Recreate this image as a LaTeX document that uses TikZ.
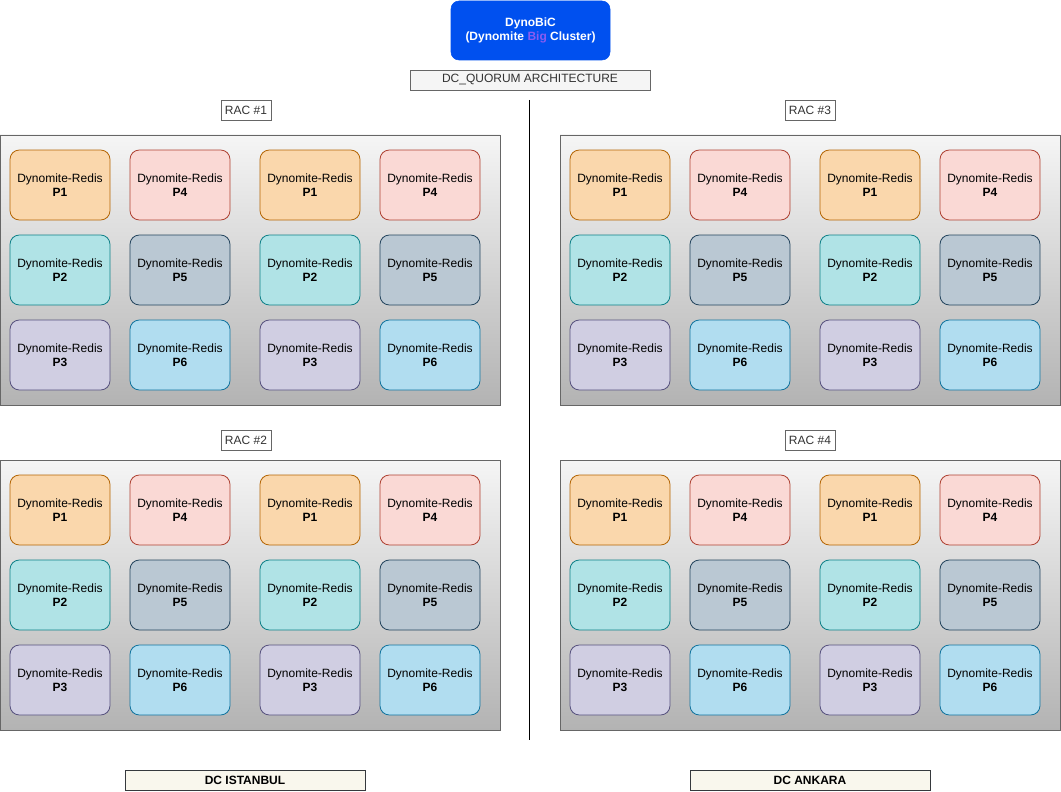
\documentclass[tikz,border=0pt]{standalone}
\usepackage{fontspec}
\setmainfont{Liberation Sans}

\definecolor{podfillA}{HTML}{FAD7AC}  \definecolor{podlineA}{HTML}{B46504}
\definecolor{podfillB}{HTML}{B0E3E6}  \definecolor{podlineB}{HTML}{0E8088}
\definecolor{podfillC}{HTML}{D0CEE2}  \definecolor{podlineC}{HTML}{56517E}
\definecolor{podfillD}{HTML}{FAD9D5}  \definecolor{podlineD}{HTML}{AE4132}
\definecolor{podfillE}{HTML}{BAC8D3}  \definecolor{podlineE}{HTML}{23445D}
\definecolor{podfillF}{HTML}{B1DDF0}  \definecolor{podlineF}{HTML}{10739E}
\definecolor{headblue}{HTML}{0050EF}
\definecolor{bigpurple}{HTML}{8A5CF0}
\definecolor{tagline}{HTML}{666666}
\definecolor{tagtext}{HTML}{333333}
\definecolor{quorumfill}{HTML}{F5F5F5}
\definecolor{racktop}{HTML}{F5F5F5}
\definecolor{rackbottom}{HTML}{B3B3B3}
\definecolor{dcfill}{HTML}{F9F7ED}
\definecolor{dcline}{HTML}{36393D}

\tikzset{
  pod/.style={draw, rounded corners=7pt, line width=0.6pt, minimum width=75pt,
    minimum height=52.5pt, inner sep=0pt, align=center, text=black,
    font=\fontsize{9}{10.5}\selectfont},
  rackbox/.style={draw=tagline, line width=0.6pt, top color=racktop,
    bottom color=rackbottom, minimum width=375pt, minimum height=202.5pt, inner sep=0pt},
  tag/.style={draw=tagline, fill=white, text=tagtext, line width=0.6pt,
    minimum width=37.5pt, minimum height=15pt, inner sep=0pt,
    font=\fontsize{9}{10.5}\selectfont},
  dcbox/.style={draw=dcline, fill=dcfill, line width=0.6pt, minimum width=180pt,
    minimum height=15pt, inner sep=0pt, font=\fontsize{9}{10.5}\selectfont\bfseries},
}

\begin{document}
\begin{tikzpicture}[x=0.75pt,y=-0.75pt]
  \useasboundingbox (0,0) rectangle (1061,792);

  % header
  \node[draw=headblue, fill=headblue, rounded corners=6pt, minimum width=119.25pt,
    minimum height=44.25pt, inner sep=0pt, align=center, text=white,
    font=\fontsize{9}{10.5}\selectfont\bfseries] (dynobic) at (530.5,30.5)
    {DynoBiC\\(Dynomite {\color{bigpurple}Big} Cluster)};
  \node[tag, fill=quorumfill, minimum width=180pt] (quorum) at (530,80) {DC\_QUORUM ARCHITECTURE};

  % split between the two data centers
  \coordinate (split top) at (529,100);
  \coordinate (split bottom) at (529,740);
  \draw[line width=0.75pt] (split top) -- (split bottom);

  % racks
  \foreach \rk/\rx/\ry/\tx/\ty in {1/250/270/246/110, 2/250/595/246/440,
                                   3/810/270/810/110, 4/810/595/810/440} {
    \node[rackbox] (rac\rk) at (\rx,\ry) {};
    \node[tag] (rac\rk tag) at (\tx,\ty) {RAC \#\rk};
    \foreach \col/\cx/\grp in {1/-190/0, 2/-70/3, 3/60/0, 4/180/3} {
      \foreach \row/\cy/\la/\lb in {1/-85/A/D, 2/0/B/E, 3/85/C/F} {
        \pgfmathtruncatemacro\pn{\grp+\row}
        \ifnum\grp=0 \def\cl{\la}\else\def\cl{\lb}\fi
        \node[pod, fill=podfill\cl, draw=podline\cl] (rac\rk-c\col-p\pn) at ({\rx+\cx},{\ry+\cy})
          {Dynomite-Redis\\\textbf{P\pn}};
      }
    }
  }

  % data centers
  \node[dcbox] (istanbul) at (245,780) {DC ISTANBUL};
  \node[dcbox] (ankara) at (810,780) {DC ANKARA};
\end{tikzpicture}
\end{document}
